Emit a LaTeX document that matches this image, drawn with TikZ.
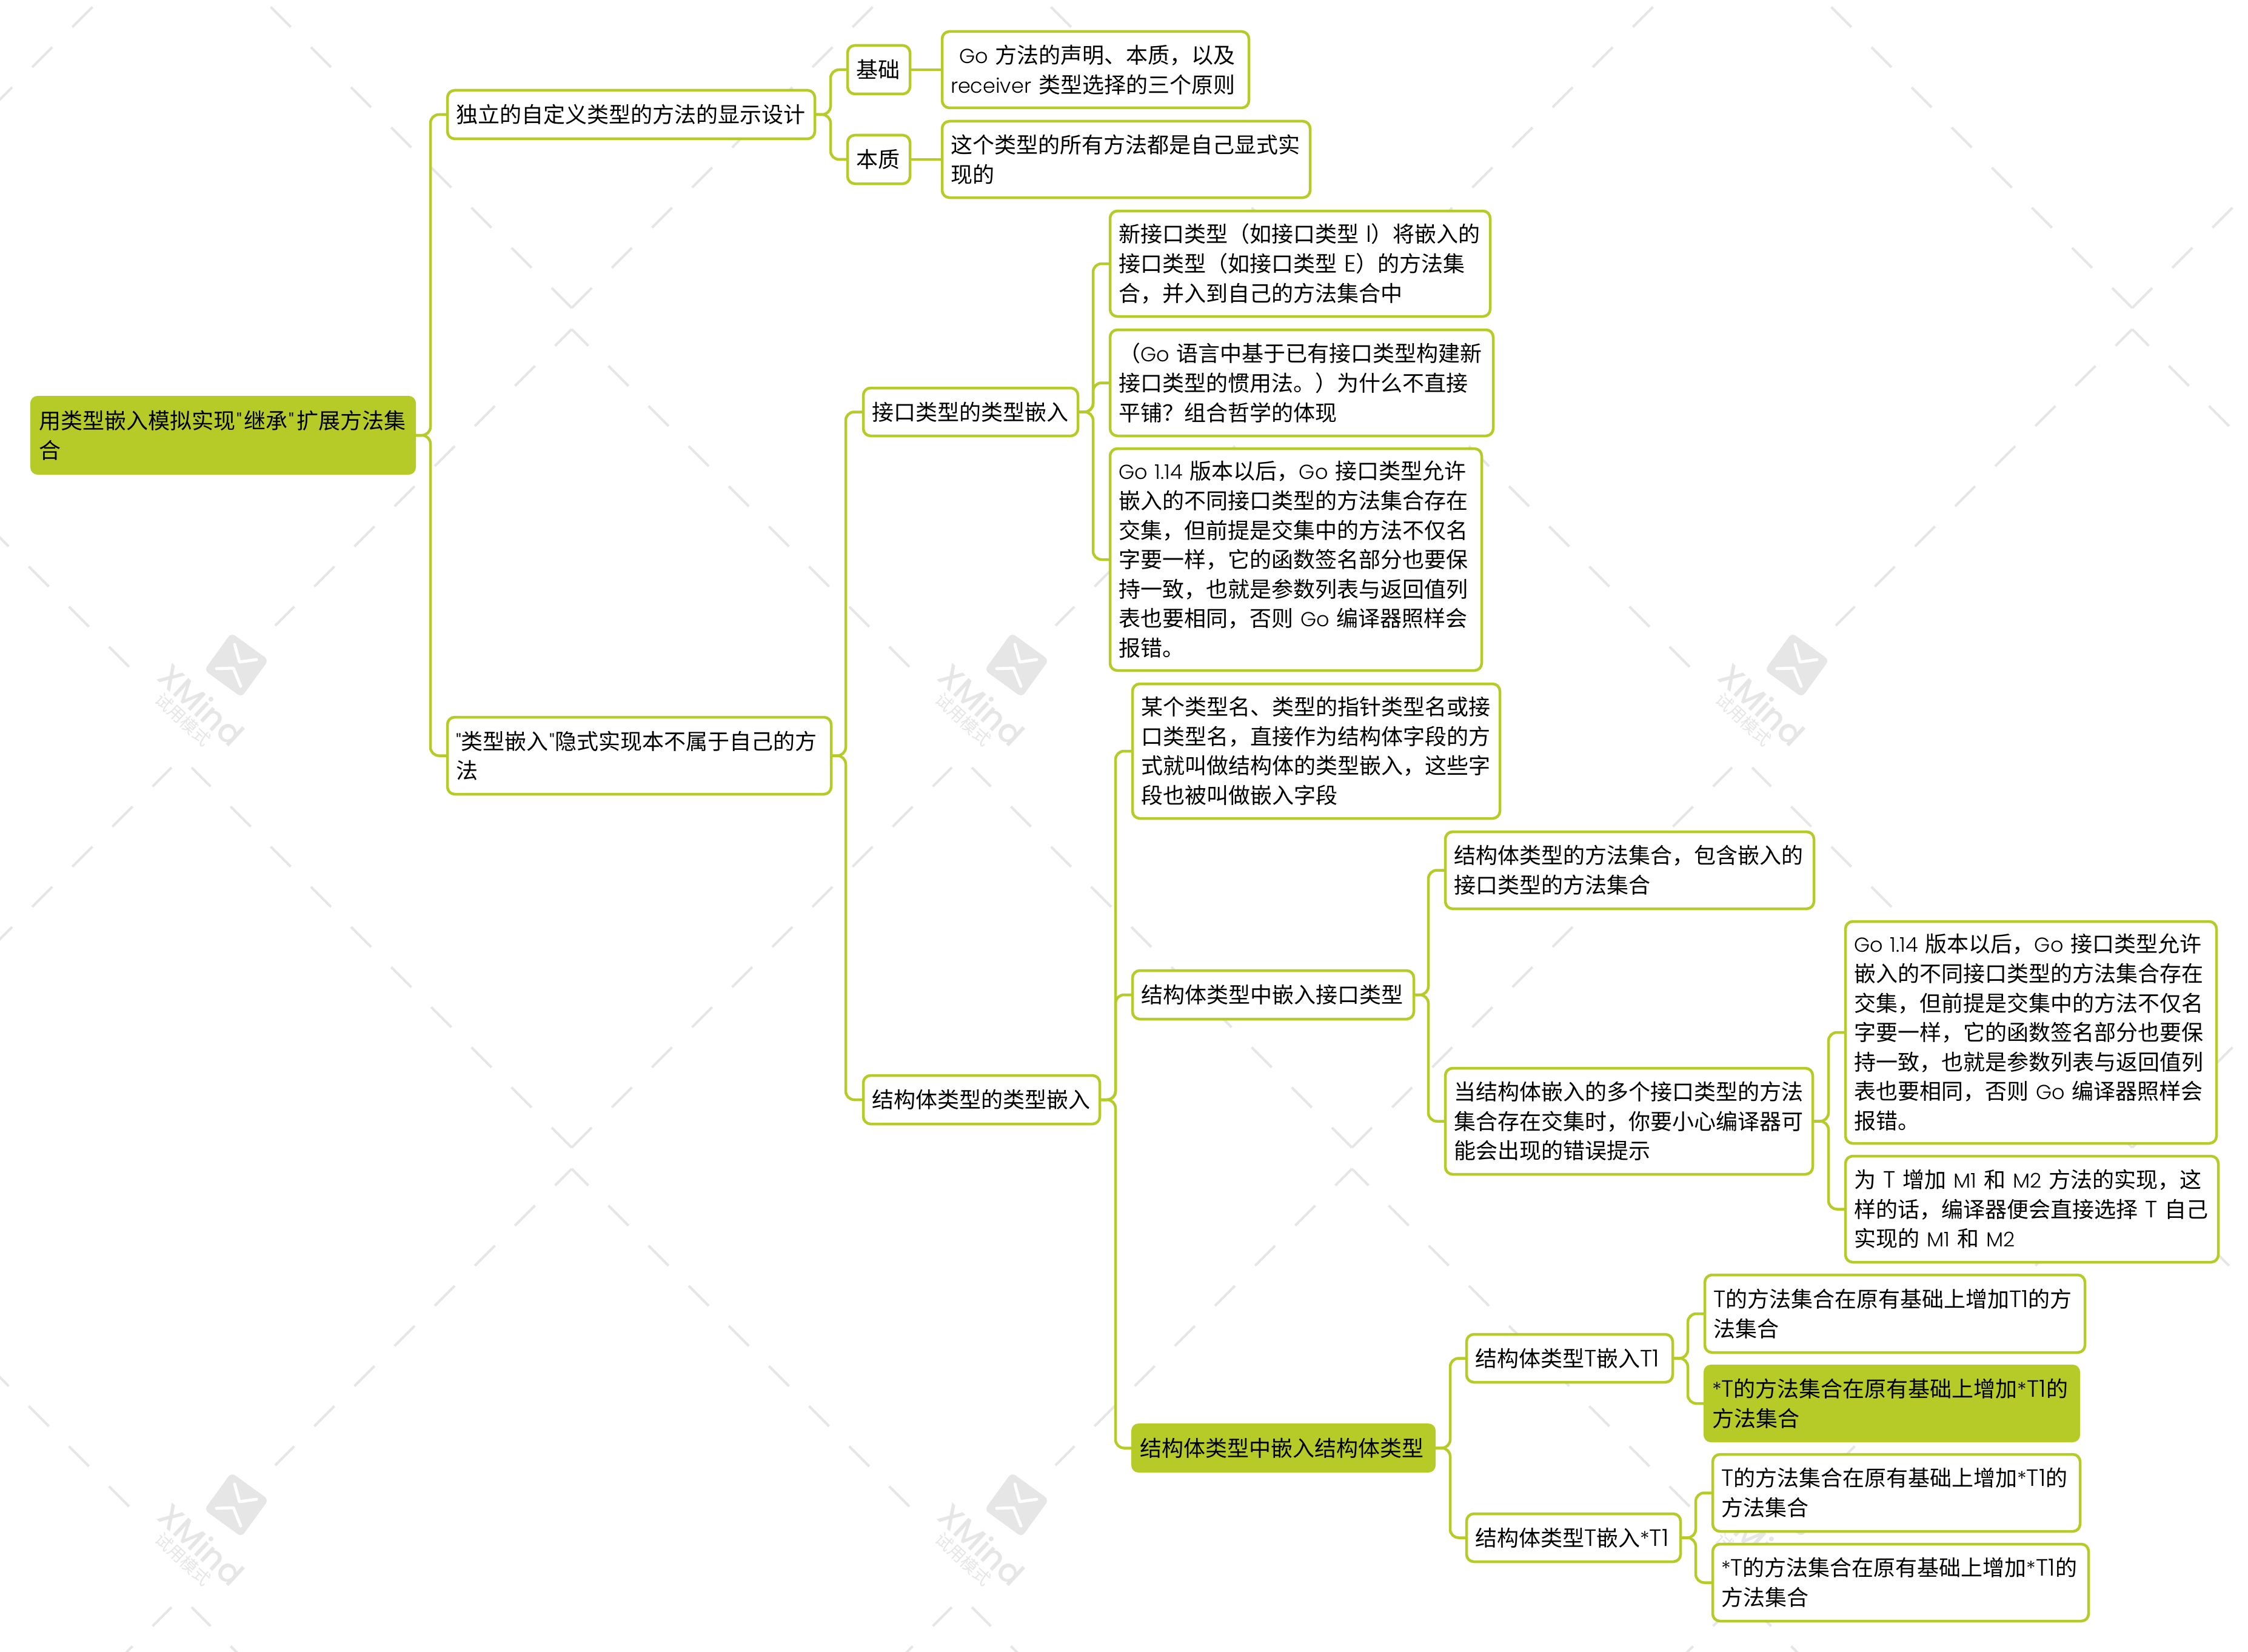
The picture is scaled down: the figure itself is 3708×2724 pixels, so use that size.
\documentclass[tikz,border=0pt]{standalone}
\usepackage{fontspec}
\setmainfont{Noto Sans CJK SC}
\newfontfamily\latfont[UprightFont=* Light,Scale=0.93]{Poppins}
\newfontfamily\capfont[UprightFont=* Light,Scale=1.08]{Poppins}
\newfontfamily\markfont[UprightFont=* Medium]{Poppins}
\newcommand{\gl}[1]{{\latfont #1}}
\newcommand{\gc}[1]{{\capfont #1}}
\newcommand{\qt}{\kern1pt\gl{"}\kern2pt}
\definecolor{lime}{HTML}{B7CB28}
\definecolor{wmgray}{HTML}{E6E6E6}
\hbadness=10000
\hfuzz=200pt

\begin{document}
\begin{tikzpicture}[x=0.5pt,y=-0.5pt,
	plain/.style={draw=lime, fill=white},
	lit/.style={fill=lime},
	link/.style={draw=lime, line width=2.25pt, rounded corners=7pt},
	wmark/.style={draw=wmgray, line width=2pt, dash pattern=on 23.4pt off 23.4pt}
]
\useasboundingbox (0,0) rectangle (3708,2724);

% Watermark
\begin{scope}
\clip (0,0) rectangle (3708,2724);
\foreach \cx in {-344,943,2230,3517} {
	\foreach \cy in {-860,525,1910,3295} {
		\draw[wmark] (\cx,\cy-17) -- ++(-627,-627);
		\draw[wmark] (\cx,\cy-17) -- ++(627,-627);
		\draw[wmark, dash phase=4pt] (\cx,\cy+18) -- ++(-489,489);
		\draw[wmark, dash phase=4pt] (\cx,\cy+18) -- ++(557,557);
	}
}
\foreach \cx in {943,2230,3517} {
	\foreach \cy in {525,1910} {
		\node[fill=wmgray, rounded corners=4pt, rotate=-36, minimum size=38pt, inner sep=0pt]
			(logo\cx\cy) at (\cx-553,\cy+572) {};
		\draw[white, line width=2.5pt, line cap=round, line join=round, shift={(\cx-553,\cy+572)}]
			(-3,-34) -- (5,-5) -- (33,-9) (-33,6) -- (-5,5) -- (7,35);
		\node[text=wmgray, rotate=-43, font=\fontsize{27}{27}\markfont]
			(mark\cx\cy) at (\cx-611,\cy+637) {XMind};
		\node[text=wmgray, rotate=-43, font=\fontsize{14}{14}\selectfont]
			(mode\cx\cy) at (\cx-641,\cy+662) {试用模式};
	}
}
\end{scope}

% Boxes
\newcommand{\tbox}[7][plain]{
	\pgfmathsetmacro{\tw}{(#5-#3)*0.5-14}
	\node[#1, rounded corners=6pt, line width=2.25pt, inner xsep=7pt, inner ysep=0pt, outer sep=0pt,
		align=left, text width=\tw pt, font=\fontsize{18}{24.3}\selectfont,
		minimum height={(#6-#4)*0.5pt}]
		(#2) at ({(#3+#5)/2},{(#4+#6)/2}) {#7}
	;
}
\tbox[lit]{root} {50}{653}{686}{783}   {用类型嵌入模拟实现\qt 继承\qt 扩展方法集\\合}
\tbox{dulei}     {738}{149}{1344}{229} {独立的自定义类型的方法的显示设计}
\tbox{yinshi}    {738}{1183}{1371}{1310}{\gl{"}类型嵌入\kern1pt\gl{"}隐式实现本不属于自己的方\\法}
\tbox{jichu}     {1398}{75}{1501}{155} {基础}
\tbox{benzhi}    {1398}{223}{1501}{303}{本质}
\tbox{shengming} {1554}{52}{2060}{178} {\hspace*{7pt}\gl{Go}~方法的声明、本质，以及\\\gl{receiver}~类型选择的三个原则}
\tbox{xianshi}   {1554}{200}{2161}{326}{这个类型的所有方法都是自己显式实\\现的}
\tbox{jiekou}    {1424}{640}{1778}{719} {接口类型的类型嵌入}
\tbox{jiegou}    {1424}{1774}{1814}{1854}{结构体类型的类型嵌入}
\tbox{xinjie}    {1831}{348}{2458}{522} {新接口类型（如接口类型~\gc{I}）将嵌入的\\接口类型（如接口类型~\gc{E}）的方法集\\合，并入到自己的方法集合中}
\tbox{guanyong}  {1831}{544}{2463}{719} {（\gl{Go}~语言中基于已有接口类型构建新\\接口类型的惯用法。）为什么不直接\\平铺？组合哲学的体现}
\tbox{banben}    {1831}{740}{2444}{1106}{\gl{Go~1.14}~版本以后，\gl{Go}~接口类型允许\\嵌入的不同接口类型的方法集合存在\\交集，但前提是交集中的方法不仅名\\字要一样，它的函数签名部分也要保\\持一致，也就是参数列表与返回值列\\表也要相同，否则~\gl{Go}~编译器照样会\\报错。}
\tbox{mouge}     {1868}{1128}{2474}{1350}{某个类型名、类型的指针类型名或接\\口类型名，直接作为结构体字段的方\\式就叫做结构体的类型嵌入，这些字\\段也被叫做嵌入字段}
\tbox{qianjie}   {1868}{1601}{2332}{1681}{结构体类型中嵌入接口类型}
\tbox[lit]{qianjg}{1866}{2348}{2368}{2429}{结构体类型中嵌入结构体类型}
\tbox{baohan}    {2384}{1372}{2992}{1499}{结构体类型的方法集合，包含嵌入的\\接口类型的方法集合}
\tbox{jiaoji}    {2384}{1762}{2990}{1937}{当结构体嵌入的多个接口类型的方法\\集合存在交集时，你要小心编译器可\\能会出现的错误提示}
\tbox{banbentwo} {3044}{1520}{3656}{1886}{\gl{Go~1.14}~版本以后，\gl{Go}~接口类型允许\\嵌入的不同接口类型的方法集合存在\\交集，但前提是交集中的方法不仅名\\字要一样，它的函数签名部分也要保\\持一致，也就是参数列表与返回值列\\表也要相同，否则~\gl{Go}~编译器照样会\\报错。}
\tbox{zengjia}   {3044}{1907}{3659}{2082}{为~\gc{T}~增加~\gl{M1}~和~\gl{M2}~方法的实现，这\\样的话，编译器便会直接选择~\gc{T}~自己\\实现的~\gl{M1}~和~\gl{M2}}
\tbox{qiantone}  {2419}{2201}{2759}{2280}{结构体类型\gc{T}嵌入\gc{T1}}
\tbox{qianptr}   {2419}{2497}{2772}{2576}{结构体类型\gc{T}嵌入\gl{*}\gc{T1}}
\tbox{tplain}    {2812}{2103}{3439}{2231}{\gc{T}的方法集合在原有基础上增加\gc{T1}的方\\法集合}
\tbox[lit]{tstar}{2810}{2251}{3431}{2379}{\gl{*}\gc{T}的方法集合在原有基础上增加\gl{*}\gc{T1}的\\方法集合}
\tbox{pplain}    {2825}{2399}{3431}{2526}{\gc{T}的方法集合在原有基础上增加\gl{*}\gc{T1}的\\方法集合}
\tbox{pstar}     {2825}{2547}{3445}{2674}{\gl{*}\gc{T}的方法集合在原有基础上增加\gl{*}\gc{T1}的\\方法集合}

% Arrows
\newcommand{\arr}[3]{
	\coordinate (sp) at (#3,0);
	\draw[link] (#1.east) -| (sp |- #2.west) -- (#2.west);
}
\arr {root}    {dulei}     {710}
\arr {root}    {yinshi}    {710}
\arr {dulei}   {jichu}     {1370}
\arr {dulei}   {benzhi}    {1370}
\arr {yinshi}  {jiekou}    {1395}
\arr {yinshi}  {jiegou}    {1395}
\arr {jiekou}  {xinjie}    {1803}
\arr {jiekou}  {guanyong}  {1803}
\arr {jiekou}  {banben}    {1803}
\arr {jiegou}  {mouge}     {1840}
\arr {jiegou}  {qianjie}   {1840}
\arr {jiegou}  {qianjg}    {1840}
\arr {qianjie} {baohan}    {2356}
\arr {qianjie} {jiaoji}    {2356}
\arr {jiaoji}  {banbentwo} {3016}
\arr {jiaoji}  {zengjia}   {3016}
\arr {qianjg}  {qiantone}  {2392}
\arr {qianjg}  {qianptr}   {2392}
\arr {qiantone}{tplain}    {2784}
\arr {qiantone}{tstar}     {2784}
\arr {qianptr} {pplain}    {2797}
\arr {qianptr} {pstar}     {2797}
\draw[link] (jichu.east) -- (shengming.west);
\draw[link] (benzhi.east) -- (xianshi.west);
\end{tikzpicture}
\end{document}
